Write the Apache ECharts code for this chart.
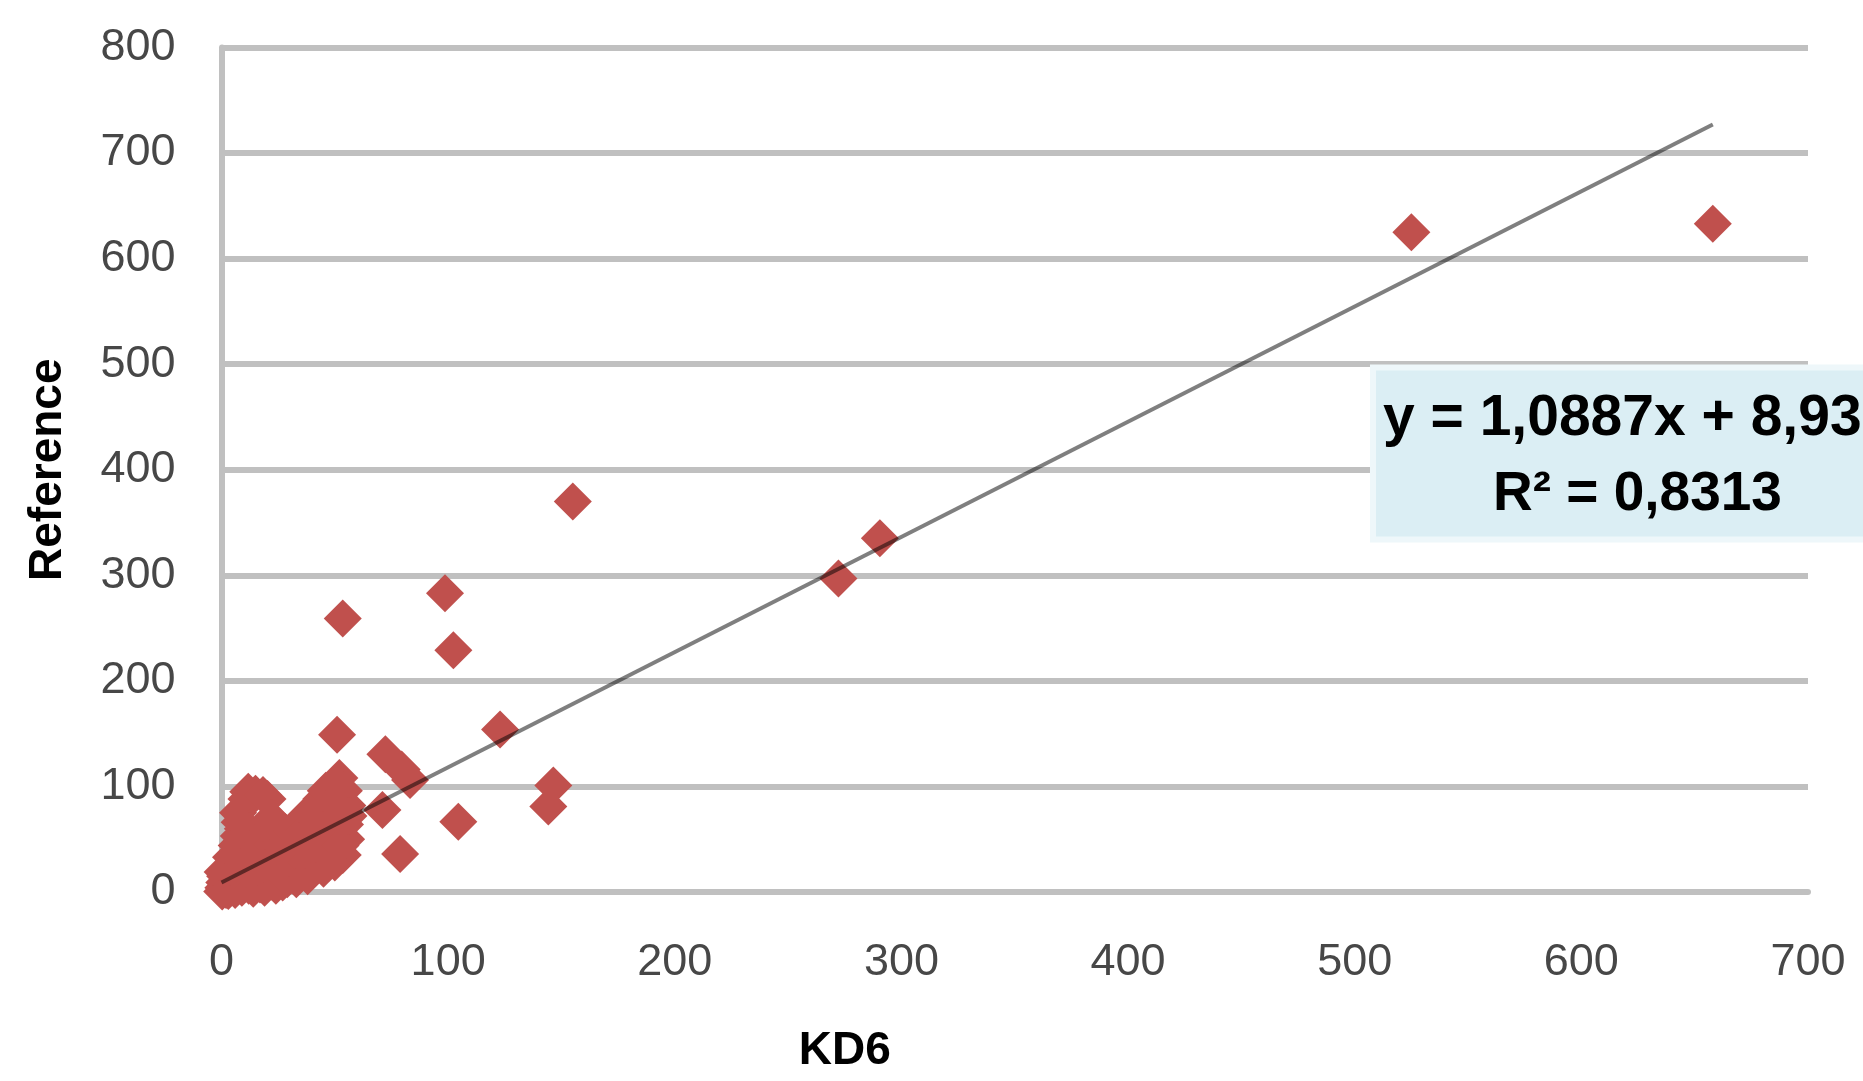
<!DOCTYPE html>
<html>
<head>
<meta charset="utf-8">
<script src="https://cdn.jsdelivr.net/npm/echarts@6/dist/echarts.min.js"></script>
<style>
  html, body { margin: 0; padding: 0; background: #ffffff; }
  #chart { width: 1863px; height: 1081px; }
</style>
</head>
<body>
<div id="chart"></div>
<script>
// ---- data ----
const kd6 = [
  // outliers
  525, 658, 155, 98.6, 102.3, 53.5, 290.5, 272.2, 122.9, 51, 146.4, 144.2, 104.5, 78.8, 71, 72.3, 79.5, 83.2,
  // dense cluster near origin
  0.3, 0.8, 1.2, 1.6, 0.5, 2,
  3, 3.4, 3.8, 4.5, 4.2, 5,
  6, 6.3, 6.7, 7.2, 7.6, 8, 8.3, 7.3, 8,
  9, 9.4, 9.8, 10.5, 10.8, 11, 11.4, 11.8, 12, 12.3,
  13, 13.5, 14, 14.2, 14.8, 15.5, 15, 16, 16.5, 17, 17.4, 18, 18.3, 18.5,
  19, 19.4, 20, 20.3, 20.7, 21.5, 22, 22.5, 23, 23.5, 24, 24.4, 22,
  25, 25.5, 26, 26.5, 27, 27.5, 28, 28.5, 29, 29.5, 30, 31, 31,
  32, 32.5, 33, 33.5, 34, 35, 35.5, 36, 36.5, 37, 37.5, 38,
  39, 39.5, 40, 40.5, 41, 42, 42.5, 43, 43.5, 44, 44,
  45, 45.5, 46, 46.5, 47, 47.5, 48, 48.5, 49, 49.5, 50, 50,
  51, 51.5, 52, 52.5, 53, 53.5, 54, 54.5, 55, 55.5, 56
];
const reference = [
  625, 633, 370, 283, 229, 259, 335, 297, 154, 149, 101, 81, 66.6, 36, 77.7, 130.5, 116, 106,
  0.5, 4, 9, 15, 19, 2,
  1, 12, 24, 6, 33, 17,
  2, 28, 44, 11, 53, 20, 36, 75, 66,
  4, 60, 27, 14, 46, 88, 37, 95, 6, 58,
  22, 49, 3, 52, 33, 12, 93, 55, 41, 7, 25, 60, 92, 47,
  4, 17, 35, 88, 58, 26, 10, 45, 64, 37, 6, 54, 70,
  19, 62, 30, 48, 9, 40, 57, 22, 12, 50, 33, 58, 17,
  44, 26, 12, 64, 52, 36, 19, 70, 58, 44, 28, 15,
  62, 76, 50, 36, 22, 80, 66, 44, 30, 88, 56,
  22, 74, 96, 40, 62, 28, 84, 50, 100, 36, 70, 28,
  58, 88, 108, 44, 76, 35, 96, 64, 50, 82, 72
];
// trendline end points
const trendX = [0, 658];
const trendY = [9, 727];
const equationLine1 = 'y = 1,0887x + 8,93';
const equationLine2 = 'R² = 0,8313';
const xAxisTitle = 'KD6';
const yAxisTitle = 'Reference';

// ---- chart ----
const chart = echarts.init(document.getElementById('chart'), null, { renderer: 'canvas' });
const points = kd6.map((x, i) => [x, reference[i]]);
const trend = trendX.map((x, i) => [x, trendY[i]]);
const FONT = 'Liberation Sans';

chart.setOption({
  animation: false,
  backgroundColor: '#ffffff',
  grid: { left: 221.5, right: 55, top: 47.5, bottom: 189, containLabel: false },
  xAxis: {
    type: 'value', min: 0, max: 700, interval: 100,
    axisLine: { show: true, onZero: false, lineStyle: { color: '#c0c0c0', width: 6 } },
    axisTick: { show: false },
    splitLine: { show: false },
    axisLabel: { fontSize: 45, color: '#474747', fontFamily: FONT, margin: 48 },
    name: xAxisTitle, nameLocation: 'middle', nameGap: 136,
    nameTextStyle: { fontSize: 46, fontWeight: 'bold', color: '#000', fontFamily: FONT,
                     lineHeight: 46, padding: [0, 340, 0, 0] }
  },
  yAxis: {
    type: 'value', min: 0, max: 800, interval: 100,
    axisLine: { show: true, onZero: false, lineStyle: { color: '#c0c0c0', width: 6 } },
    axisTick: { show: false },
    splitLine: { show: true, lineStyle: { color: '#c0c0c0', width: 6 } },
    axisLabel: { fontSize: 45, color: '#474747', fontFamily: FONT, margin: 46 },
    name: yAxisTitle, nameLocation: 'middle', nameRotate: 90, nameGap: 150,
    nameTextStyle: { fontSize: 46, fontWeight: 'bold', color: '#000', fontFamily: FONT }
  },
  series: [
    {
      type: 'scatter', data: points, symbol: 'diamond', symbolSize: 38,
      itemStyle: { color: '#c0504d', opacity: 1 }, z: 2
    },
    {
      type: 'line', data: trend, symbol: 'none', silent: true,
      lineStyle: { color: 'rgba(0,0,0,0.5)', width: 4 }, z: 3
    }
  ],
  graphic: [
    {
      type: 'rect', z: 100,
      shape: { x: 1373, y: 367.5, width: 520, height: 172 },
      style: { fill: '#dbeef4', stroke: '#eef7fa', lineWidth: 6 }
    },
    {
      type: 'text', z: 101, x: 1383, y: 419,
      style: { text: equationLine1, fill: '#000', fontSize: 57, fontWeight: 'bold',
               fontFamily: FONT, verticalAlign: 'middle', align: 'left' }
    },
    {
      type: 'text', z: 101, x: 1493, y: 495,
      style: { text: equationLine2, fill: '#000', fontSize: 55, fontWeight: 'bold',
               fontFamily: FONT, verticalAlign: 'middle', align: 'left' }
    }
  ]
});
</script>
</body>
</html>
